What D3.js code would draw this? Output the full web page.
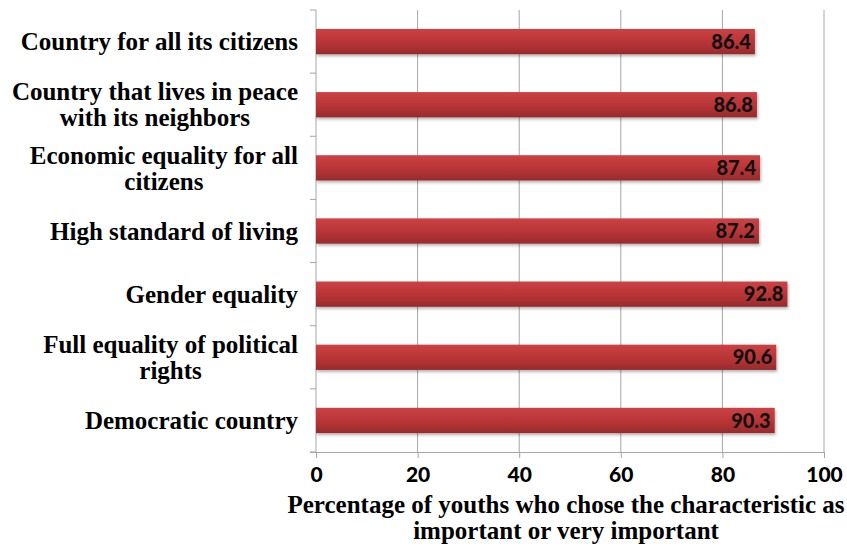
<!DOCTYPE html>
<html><head><meta charset="utf-8">
<script src="https://cdn.jsdelivr.net/npm/d3@7"></script>
<style>body{margin:0;background:#fff}</style>
</head><body>
<svg id="c" width="847" height="546"></svg>
<script>
const categories = [
  ["Country for all its citizens"],
  ["Country that lives in peace", "with its neighbors"],
  ["Economic equality for all", "citizens"],
  ["High standard of living"],
  ["Gender equality"],
  ["Full equality of political", "rights"],
  ["Democratic country"]
];
const values = [86.4, 86.8, 87.4, 87.2, 92.8, 90.6, 90.3];
const xTicks = [0, 20, 40, 60, 80, 100];
const axisTitle = ["Percentage of youths who chose the characteristic as", "important or very important"];

const svg = d3.select("#c");
const m = {left: 316, right: 824, top: 10, bottom: 452};
const x = d3.scaleLinear().domain([0, 100]).range([m.left, m.right]);
const y = d3.scaleBand().domain(d3.range(categories.length)).range([m.top, m.bottom]).paddingInner(0.6).paddingOuter(0.3);
const yb = d3.scaleBand().domain(d3.range(categories.length)).range([m.top, m.bottom]);

const defs = svg.append("defs");
const g = defs.append("linearGradient").attr("id", "bg").attr("x1", 0).attr("x2", 0).attr("y1", 0).attr("y2", 1);
g.append("stop").attr("offset", "0%").attr("stop-color", "#cc4143");
g.append("stop").attr("offset", "55%").attr("stop-color", "#b83436");
g.append("stop").attr("offset", "100%").attr("stop-color", "#962b2c");
const f = defs.append("filter").attr("id", "sh").attr("x", "-5%").attr("y", "-20%").attr("width", "110%").attr("height", "160%");
f.append("feDropShadow").attr("dx", 1).attr("dy", 2).attr("stdDeviation", 1.5).attr("flood-color", "#000").attr("flood-opacity", 0.3);

// gridlines
svg.append("g").selectAll("line").data(xTicks.filter(d => d > 0)).join("line")
  .attr("x1", d => x(d)).attr("x2", d => x(d))
  .attr("y1", m.top).attr("y2", m.bottom)
  .attr("stroke", "#a6a6a6").attr("stroke-width", 1);

// bottom axis
const xa = svg.append("g").attr("transform", `translate(0,${m.bottom})`)
  .call(d3.axisBottom(x).tickValues(xTicks).tickSize(6).tickPadding(6));
xa.select(".domain").attr("stroke", "#a6a6a6").attr("d", `M${m.left - 6},0.5H${m.right}`);
xa.selectAll(".tick line").attr("stroke", "#a6a6a6");
xa.selectAll(".tick text").attr("font-family", "Lato, 'DejaVu Sans', sans-serif").attr("font-weight", "900")
  .attr("font-size", 21).attr("fill", "#000").attr("dy", "0.85em");

// left axis line and ticks between bands
svg.append("line").attr("x1", m.left).attr("x2", m.left).attr("y1", m.top).attr("y2", m.bottom)
  .attr("stroke", "#a6a6a6");
svg.append("g").selectAll("line").data(d3.range(categories.length + 1)).join("line")
  .attr("x1", m.left - 6).attr("x2", m.left)
  .attr("y1", i => i < categories.length ? yb(i) : m.bottom)
  .attr("y2", i => i < categories.length ? yb(i) : m.bottom)
  .attr("stroke", "#a6a6a6");

// bars
svg.append("g").selectAll("rect").data(values).join("rect")
  .attr("x", x(0)).attr("y", (d, i) => y(i))
  .attr("width", d => x(d) - x(0)).attr("height", y.bandwidth())
  .attr("fill", "url(#bg)").attr("filter", "url(#sh)");

// value labels
svg.append("g").selectAll("text").data(values).join("text")
  .attr("x", d => x(d) - 4).attr("y", (d, i) => y(i) + y.bandwidth() / 2)
  .attr("dy", "0.36em").attr("text-anchor", "end")
  .attr("font-family", "Lato, 'DejaVu Sans', sans-serif").attr("font-weight", "900")
  .attr("font-size", 20).attr("fill", "#111")
  .text(d => d.toFixed(1));

// category labels
const cl = svg.append("g").attr("font-family", "'Liberation Serif', 'Times New Roman', serif")
  .attr("font-weight", "bold").attr("font-size", 25).attr("fill", "#000");
categories.forEach((lines, i) => {
  const t = cl.append("text").attr("text-anchor", "middle");
  const cy = yb(i) + yb.bandwidth() / 2;
  const lh = 26;
  lines.forEach((ln, j) => {
    t.append("tspan").attr("y", cy + (j - (lines.length - 1) / 2) * lh).attr("dy", "0.35em").text(ln);
  });
  const widths = [];
  t.selectAll("tspan").each(function(){ widths.push(this.getComputedTextLength()); });
  const w = d3.max(widths);
  t.selectAll("tspan").attr("x", 298 - w / 2);
});

// axis title
const at = svg.append("text").attr("text-anchor", "middle")
  .attr("font-family", "'Liberation Serif', 'Times New Roman', serif")
  .attr("font-weight", "bold").attr("font-size", 25).attr("fill", "#000");
axisTitle.forEach((ln, j) => {
  at.append("tspan").attr("x", 566).attr("y", 513 + j * 26).text(ln);
});
</script>
</body></html>
